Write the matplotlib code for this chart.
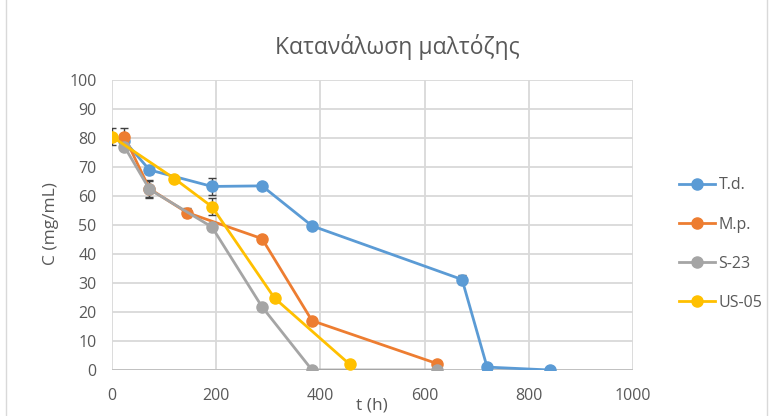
import matplotlib
matplotlib.use("Agg")
import matplotlib.pyplot as plt
from matplotlib.patches import Rectangle

plt.rcParams['font.family'] = ['Open Sans', 'DejaVu Sans']

td_t = [24, 72, 192, 288, 384, 672, 720, 840]
td_c = [79, 69, 63.3, 63.5, 49.7, 31.2, 1.0, 0.0]
td_e = [0, 1.5, 3, 1, 0.5, 1.5, 0.5, 0]

mp_t = [24, 72, 144, 288, 384, 624]
mp_c = [80.5, 62.5, 54.3, 45.3, 17.0, 2.2]
mp_e = [3, 3, 1.5, 0.5, 0.5, 0.5]

s23_t = [24, 72, 192, 288, 384, 624]
s23_c = [77.0, 62.3, 49.3, 21.8, 0.0, 0.0]
s23_e = [0.5, 3, 0.5, 0.5, 0, 0]

us_t = [0, 120, 192, 312, 456]
us_c = [80.5, 66.0, 56.3, 24.8, 2.0]
us_e = [3, 0.5, 3, 0.5, 0.5]

series = [
    ("T.d.", td_t, td_c, td_e, "#5b9bd5"),
    ("M.p.", mp_t, mp_c, mp_e, "#ed7d31"),
    ("S-23", s23_t, s23_c, s23_e, "#a5a5a5"),
    ("US-05", us_t, us_c, us_e, "#ffc000"),
]

fig = plt.figure(figsize=(7.69, 4.16), dpi=100)
fig.patches.append(Rectangle((0.008, -0.01), 0.99, 1.02, transform=fig.transFigure,
                             fill=False, edgecolor="#d9d9d9", lw=1))
ax = fig.add_axes([0.1456, 0.1106, 0.6775, 0.697])

for name, t, c, e, col in series:
    ax.errorbar(t, c, yerr=e, fmt='none', ecolor='#404040', elinewidth=1, capsize=3, zorder=2)
for name, t, c, e, col in series:
    ax.plot(t, c, '-o', color=col, lw=2, ms=8, label=name, zorder=3)

ax.set_xlim(0, 1000)
ax.set_ylim(0, 100)
ax.set_xticks(range(0, 1001, 200))
ax.set_yticks(range(0, 101, 10))
ax.grid(True, color="#d9d9d9", lw=1.3)
ax.set_axisbelow(True)
for s in ax.spines.values():
    s.set_visible(False)
ax.axhline(0, color="#bfbfbf", lw=1.3, zorder=1)
ax.tick_params(axis='x', length=0, colors="#595959", labelsize=11.5, pad=13)
ax.tick_params(axis='y', length=0, colors="#595959", labelsize=11.5, pad=11)

fig.text(0.517, 0.888, "Κατανάλωση μαλτόζης", ha='center', va='center', fontsize=16.5, color="#595959")
fig.text(0.484, 0.026, "t (h)", ha='center', va='center', fontsize=12.5, color="#595959")
fig.text(0.066, 0.462, "C (mg/mL)", ha='center', va='center', rotation=90, fontsize=12.5, color="#595959")

ax.legend(loc='center left', bbox_to_anchor=(1.06, 0.434), frameon=False, fontsize=11.5,
          labelcolor="#595959", labelspacing=1.45, handlelength=2.3, handletextpad=0.2)

fig.savefig("out.png", dpi=100)
